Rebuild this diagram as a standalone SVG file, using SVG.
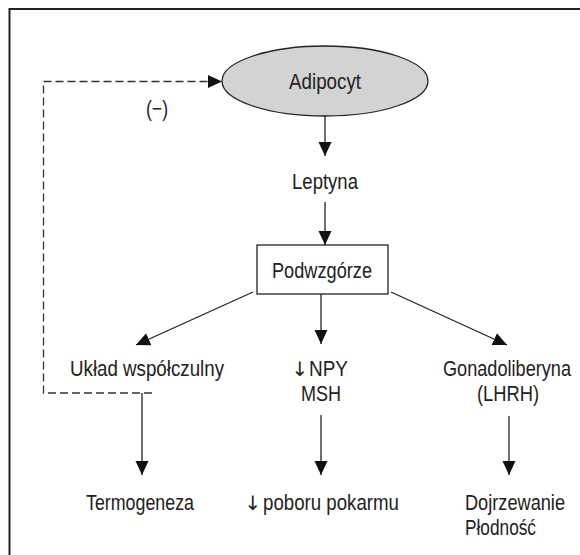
<svg xmlns="http://www.w3.org/2000/svg" width="580" height="555" viewBox="0 0 580 555">
<style>
text{font-family:"Liberation Sans","DejaVu Sans",sans-serif;font-size:21.5px;fill:#222;text-anchor:middle}
text.ar{font-family:"DejaVu Sans",sans-serif;font-size:20px}
text.st{text-anchor:start}
.ln{stroke:#222;stroke-width:1.3;fill:none}
.dash{stroke:#333;stroke-width:1.3;fill:none;stroke-dasharray:8 4}
</style>
<defs>
<marker id="ah" markerUnits="userSpaceOnUse" markerWidth="14" markerHeight="14" viewBox="0 0 14 14" refX="14" refY="7" orient="auto">
<path d="M0,0.5 L14,7 L0,13.5 Z" fill="#111"/>
</marker>
</defs>
<rect width="580" height="555" fill="#fff"/>
<path d="M9.5,555 V9 H580" stroke="#222" stroke-width="2" fill="none"/>
<g id="adipocyt">
<ellipse cx="325" cy="81" rx="103" ry="35" fill="#d3d3d3" stroke="#222" stroke-width="1.3"/>
<text x="325" y="89" textLength="72" lengthAdjust="spacingAndGlyphs">Adipocyt</text>
</g>
<g id="leptyna"><text x="325" y="189" textLength="66" lengthAdjust="spacingAndGlyphs">Leptyna</text></g>
<g id="podwzgorze">
<rect x="257" y="245" width="131" height="49" fill="#fff" stroke="#222" stroke-width="1.3"/>
<text x="322" y="278" textLength="100" lengthAdjust="spacingAndGlyphs">Podwzgórze</text>
</g>
<g id="uklad"><text x="147" y="376" textLength="154" lengthAdjust="spacingAndGlyphs">Układ współczulny</text></g>
<g id="npy"><text class="ar" x="300" y="376">↓</text><text class="st" x="309" y="376" textLength="39" lengthAdjust="spacingAndGlyphs">NPY</text><text x="321" y="401" textLength="40" lengthAdjust="spacingAndGlyphs">MSH</text></g>
<g id="gonado"><text x="507" y="376" textLength="128" lengthAdjust="spacingAndGlyphs">Gonadoliberyna</text><text x="508" y="401" textLength="62" lengthAdjust="spacingAndGlyphs">(LHRH)</text></g>
<g id="termo"><text x="140" y="510" textLength="108" lengthAdjust="spacingAndGlyphs">Termogeneza</text></g>
<g id="pobor"><text class="ar" x="253" y="510">↓</text><text class="st" x="263" y="510" textLength="136" lengthAdjust="spacingAndGlyphs">poboru pokarmu</text></g>
<g id="dojrz"><text class="st" x="465" y="510" textLength="100" lengthAdjust="spacingAndGlyphs">Dojrzewanie</text><text class="st" x="465" y="535" textLength="71" lengthAdjust="spacingAndGlyphs">Płodność</text></g>
<g id="minus"><text x="157" y="116" textLength="22" lengthAdjust="spacingAndGlyphs">(−)</text></g>
<g id="connectors">
<line class="ln" x1="325" y1="116" x2="325" y2="156" marker-end="url(#ah)"/>
<line class="ln" x1="325" y1="202" x2="325" y2="245" marker-end="url(#ah)"/>
<line class="ln" x1="253" y1="292" x2="136" y2="345" marker-end="url(#ah)"/>
<line class="ln" x1="321" y1="294" x2="321" y2="344" marker-end="url(#ah)"/>
<line class="ln" x1="391" y1="292" x2="507" y2="345" marker-end="url(#ah)"/>
<line class="ln" x1="142" y1="393" x2="142" y2="475" marker-end="url(#ah)"/>
<line class="ln" x1="321" y1="415" x2="321" y2="475" marker-end="url(#ah)"/>
<line class="ln" x1="509" y1="416" x2="509" y2="475" marker-end="url(#ah)"/>
<path class="dash" d="M152,393 H43.5 V81.5 H208"/>
<path d="M208,75 L222,81.5 L208,88 Z" fill="#111"/>
</g>
</svg>
